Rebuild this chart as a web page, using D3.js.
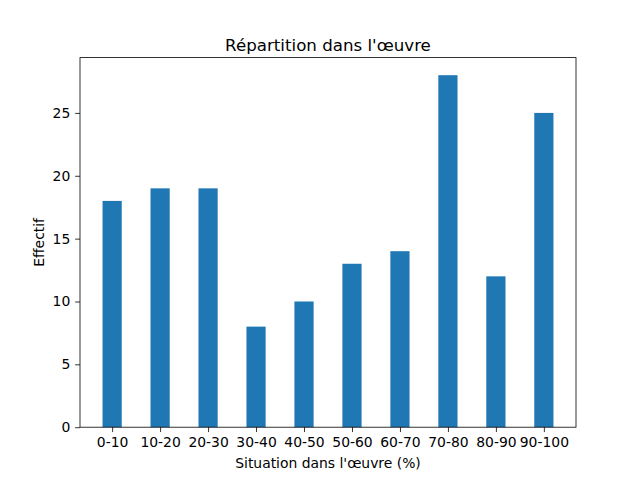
<!DOCTYPE html>
<html><head><meta charset="utf-8">
<script src="https://cdn.jsdelivr.net/npm/d3@7"></script>
<style>body{margin:0;background:#fff}svg{display:block}text{font-family:"DejaVu Sans",sans-serif}</style>
</head><body>
<script>
const categories = ["0-10","10-20","20-30","30-40","40-50","50-60","60-70","70-80","80-90","90-100"];
const counts = [18,19,19,8,10,13,14,28,12,25];
const yTicks = [0,5,10,15,20,25];
const title = "Répartition dans l'œuvre";
const xLabel = "Situation dans l'œuvre (%)";
const yLabel = "Effectif";

const W=640,H=480, L=80, R=576, T=57.6, B=427.2;
const svg=d3.select("body").append("svg").attr("width",W).attr("height",H);
const bw=0.4, n=categories.length;
const span=(n-1)+bw, m=0.05*span;
const x=d3.scaleLinear().domain([-bw/2-m,(n-1)+bw/2+m]).range([L,R]);
const ymax=d3.max(counts)*1.05;
const y=d3.scaleLinear().domain([0,ymax]).range([B,T]);

svg.append("g").selectAll("rect").data(counts).join("rect")
 .attr("x",(d,i)=>x(i-bw/2)).attr("width",(d,i)=>x(i+bw/2)-x(i-bw/2))
 .attr("y",d=>y(d)).attr("height",d=>y(0)-y(d)).attr("fill","#1f77b4");

const tl=4.86, fs=13.9;
const xa=d3.axisBottom(x).tickValues(d3.range(n)).tickFormat(i=>categories[i]).tickSizeInner(tl).tickSizeOuter(0).tickPadding(4.86);
const gx=svg.append("g").attr("transform",`translate(0,${B})`).call(xa);
const ya=d3.axisLeft(y).tickValues(yTicks).tickSizeInner(tl).tickSizeOuter(0).tickPadding(4.86);
const gy=svg.append("g").attr("transform",`translate(${L},0)`).call(ya);
[gx,gy].forEach(g=>{g.select(".domain").remove();g.selectAll("text").attr("font-size",fs).attr("font-family","DejaVu Sans").attr("fill","#000");g.selectAll("line").attr("stroke","#000").attr("stroke-width",0.8);});

svg.append("rect").attr("x",L).attr("y",T).attr("width",R-L).attr("height",B-T).attr("fill","none").attr("stroke","#000").attr("stroke-width",0.8);

svg.append("text").attr("x",(L+R)/2).attr("y",T-7).attr("text-anchor","middle").attr("font-size",16.67).text(title);
svg.append("text").attr("x",(L+R)/2).attr("y",468).attr("text-anchor","middle").attr("font-size",fs).text(xLabel);
svg.append("text").attr("transform",`translate(44,${(T+B)/2}) rotate(-90)`).attr("text-anchor","middle").attr("font-size",fs).text(yLabel);
</script>
</body></html>
